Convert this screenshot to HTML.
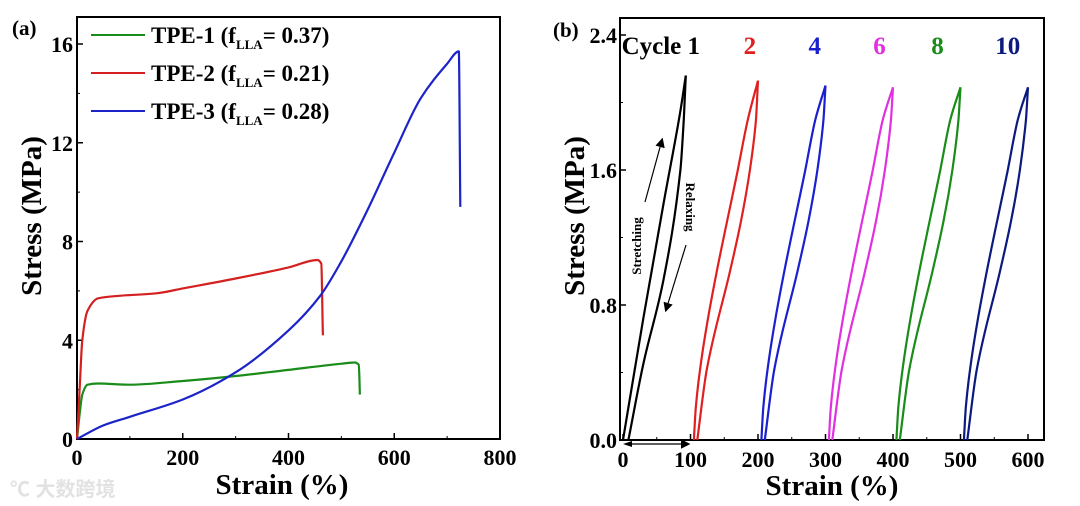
<!DOCTYPE html>
<html><head><meta charset="utf-8"><style>
body{margin:0;background:#fff;}
svg{display:block;font-family:"Liberation Serif","Noto Serif CJK SC",serif;font-weight:bold;}
</style></head><body>
<svg id="chart" width="1080" height="506" viewBox="0 0 1080 506">
<defs><marker id="ah" markerWidth="8" markerHeight="8" refX="6" refY="4" orient="auto"><path d="M0,0 L8,4 L0,8 Z" fill="#000"/></marker></defs>
<g id="pa"></g>
<g id="pb"></g>
<text x="10" y="496" font-size="20" fill="#e2e2e2" font-family="Liberation Sans, Noto Sans CJK SC, sans-serif">℃ 大数跨境</text>
</svg>
<script>
// Panel (a) data
const aSeriesNames = ["TPE-1", "TPE-2", "TPE-3"];
const aLegendValues = ["0.37", "0.21", "0.28"];
const aColors = ["#1a8c1a", "#d42020", "#1c24c8"];
const tpe1X = [0,5,10,20,40,100,200,300,400,500,525,533,535];
const tpe1Y = [0,1.0,1.8,2.2,2.25,2.2,2.35,2.55,2.8,3.05,3.1,3.0,1.8];
const tpe2X = [0,5,10,20,40,80,150,200,300,400,455,462,465];
const tpe2Y = [0,2,4,5.2,5.7,5.8,5.9,6.1,6.5,6.95,7.25,7.1,4.2];
const tpe3X = [0,50,100,200,300,400,460,500,550,600,650,700,722,725];
const tpe3Y = [0,0.55,0.9,1.6,2.7,4.4,5.8,7.2,9.3,11.6,13.8,15.2,15.7,9.4];
const aXTicks = [0,200,400,600,800];
const aYTicks = [0,4,8,12,16];
// Panel (b) data
const bCycleLabels = ["Cycle 1","2","4","6","8","10"];
const bLabelX = [56,188,284,380,466,570];
const bOffsets = [0,100,200,300,400,500];
const bPeaks = [2.16,2.13,2.1,2.09,2.09,2.09];
const bColors = ["#000","#e02020","#1a20d0","#e030e0","#1a8c1a","#0c1a80"];
const c1LoadX = [0,30,60,85,93];
const c1LoadY = [0,0.72,1.4,1.95,1];
const c1UnloadX = [93,90,85,60,30,8];
const c1UnloadY = [1,1.9,1.6,0.95,0.45,0];
const loadX = [5,8,14,25,39,70,85,100];
const loadY = [0,0.2,0.415,0.7,1.0,1.6,1.9,1];
const unloadX = [100,97,88,75,58.5,24,10];
const unloadY = [1,1.9,1.6,1.3,1.0,0.415,0];
const bXTicks = [0,100,200,300,400,500,600];
const bYTicks = [0,0.8,1.6,2.4];
const NS="http://www.w3.org/2000/svg";
function mk(p,t,a){const e=document.createElementNS(NS,t);for(const k in a)e.setAttribute(k,a[k]);p.appendChild(e);return e;}
function path(p,xs,ys,sx,sy,col){
 const P=xs.map((x,i)=>[sx(x),sy(ys[i])]);
 const n=P.length, s=[], m=[];
 for(let i=0;i<n-1;i++){const dx=P[i+1][0]-P[i][0];s.push(dx===0?0:(P[i+1][1]-P[i][1])/dx);}
 for(let i=0;i<n;i++){
  if(i===0)m.push(s[0]);else if(i===n-1)m.push(s[n-2]);
  else m.push(s[i-1]*s[i]<=0?0:2/(1/s[i-1]+1/s[i]));}
 let d='M'+P[0][0].toFixed(1)+','+P[0][1].toFixed(1);
 for(let i=0;i<n-1;i++){const h=(P[i+1][0]-P[i][0])/3;
  d+=' C'+(P[i][0]+h).toFixed(1)+','+(P[i][1]+m[i]*h).toFixed(1)+' '+(P[i+1][0]-h).toFixed(1)+','+(P[i+1][1]-m[i+1]*h).toFixed(1)+' '+P[i+1][0].toFixed(1)+','+P[i+1][1].toFixed(1);}
 return mk(p,'path',{d:d,fill:'none',stroke:col,'stroke-width':2.2,'stroke-linejoin':'round'});}
// Panel a
const pa=document.getElementById('pa');
const ax0=77,ax1=500,ay0=439,ay1=17;
const asx=v=>ax0+(v/800)*(ax1-ax0), asy=v=>ay0-v*(395/16);
let f=mk(pa,'rect',{x:ax0,y:ay1,width:ax1-ax0,height:ay0-ay1,fill:'none',stroke:'#000','stroke-width':2});


aXTicks.forEach(v=>{mk(pa,'line',{x1:asx(v),x2:asx(v),y1:ay0,y2:ay0-6,stroke:'#000','stroke-width':1.5});
 const t=mk(pa,'text',{x:asx(v),y:465,'font-size':22,'text-anchor':'middle'});t.textContent=v;
 
 });
[100,300,500,700].forEach(v=>mk(pa,'line',{x1:asx(v),x2:asx(v),y1:ay0,y2:ay0-3,stroke:'#000'}));
aYTicks.forEach(v=>{mk(pa,'line',{x1:ax0,x2:ax0+6,y1:asy(v),y2:asy(v),stroke:'#000','stroke-width':1.5});
 const t=mk(pa,'text',{x:73,y:asy(v)+8,'font-size':22,'text-anchor':'end'});t.textContent=v;
 
 });
[2,6,10,14].forEach(v=>mk(pa,'line',{x1:ax0,x2:ax0+3,y1:asy(v),y2:asy(v),stroke:'#000'}));
[[tpe1X,tpe1Y],[tpe2X,tpe2Y],[tpe3X,tpe3Y]].forEach((s,i)=>{const p=path(pa,s[0],s[1],asx,asy,aColors[i]);
 
 });
aSeriesNames.forEach((n,i)=>{const y=35+i*38;
 mk(pa,'line',{x1:91,x2:145,y1:y,y2:y,stroke:aColors[i],'stroke-width':2});
 const t=mk(pa,'text',{x:151,y:y+8,'font-size':23});
 t.innerHTML=n+' (f<tspan font-size="13" dy="6">LLA</tspan><tspan dy="-6">= '+aLegendValues[i]+')</tspan>';
 
 });
let t=mk(pa,'text',{x:12,y:35,'font-size':21});t.textContent='(a)';


t=mk(pa,'text',{x:282,y:494,'font-size':29,'text-anchor':'middle'});t.textContent='Strain (%)';


t=mk(pa,'text',{x:0,y:0,'font-size':29,'text-anchor':'middle',transform:'translate(41,216) rotate(-90)'});t.textContent='Stress (MPa)';


// Panel b
const pb=document.getElementById('pb');
const bx0=620,bx1=1044,by0=440,by1=18;
const bsx=v=>623+v*0.675, bsy=v=>by0-v*168.75;
f=mk(pb,'rect',{x:bx0,y:by1,width:bx1-bx0,height:by0-by1,fill:'none',stroke:'#000','stroke-width':2});


bXTicks.forEach(v=>{mk(pb,'line',{x1:bsx(v),x2:bsx(v),y1:by0,y2:by0-6,stroke:'#000','stroke-width':1.5});
 const t=mk(pb,'text',{x:bsx(v),y:467,'font-size':22,'text-anchor':'middle'});t.textContent=v;
 
 });
[50,150,250,350,450,550].forEach(v=>mk(pb,'line',{x1:bsx(v),x2:bsx(v),y1:by0,y2:by0-3,stroke:'#000'}));
bYTicks.forEach(v=>{mk(pb,'line',{x1:bx0,x2:bx0+6,y1:bsy(v),y2:bsy(v),stroke:'#000','stroke-width':1.5});
 const t=mk(pb,'text',{x:617,y:bsy(v)+8,'font-size':22,'text-anchor':'end'});t.textContent=v.toFixed(1);
 
 });
[0.4,1.2,2.0].forEach(v=>mk(pb,'line',{x1:bx0,x2:bx0+3,y1:bsy(v),y2:bsy(v),stroke:'#000'}));
bOffsets.forEach((o,i)=>{const pk=bPeaks[i];
 const LX=i?loadX:c1LoadX, LY=i?loadY:c1LoadY, UX=i?unloadX:c1UnloadX, UY=i?unloadY:c1UnloadY;
 const ly=LY.map((y,j)=>j===LY.length-1?pk:y), uy=UY.map((y,j)=>j===0?pk:y);
 const p1=path(pb,LX.map(x=>x+o),ly,bsx,bsy,bColors[i]);
 
 
 const p2=path(pb,UX.map(x=>x+o),uy,bsx,bsy,bColors[i]);
 
 
 const t=mk(pb,'text',{x:bsx(bLabelX[i]),y:54,'font-size':25,'text-anchor':'middle',fill:bColors[i]});t.textContent=bCycleLabels[i];
 
 });
t=mk(pb,'text',{x:553,y:37,'font-size':21});t.textContent='(b)';


t=mk(pb,'text',{x:832,y:495,'font-size':29,'text-anchor':'middle'});t.textContent='Strain (%)';


t=mk(pb,'text',{x:0,y:0,'font-size':29,'text-anchor':'middle',transform:'translate(584,216) rotate(-90)'});t.textContent='Stress (MPa)';


mk(pb,'line',{x1:645,y1:202,x2:662,y2:140,stroke:'#000','stroke-width':1.2,'marker-end':'url(#ah)'});
mk(pb,'line',{x1:686,y1:245,x2:666,y2:310,stroke:'#000','stroke-width':1.2,'marker-end':'url(#ah)'});
mk(pb,'line',{x1:630,y1:444,x2:688,y2:444,stroke:'#000','stroke-width':1.2,'marker-end':'url(#ah)'});
mk(pb,'path',{d:'M623,444 L632,441 L632,447 Z',fill:'#000'});
t=mk(pb,'text',{x:0,y:0,'font-size':13,'text-anchor':'middle',transform:'translate(641,246) rotate(-90)'});t.textContent='Stretching';


t=mk(pb,'text',{x:0,y:0,'font-size':13,'text-anchor':'middle',transform:'translate(686,207) rotate(90)'});t.textContent='Relaxing';


</script>
</body></html>
